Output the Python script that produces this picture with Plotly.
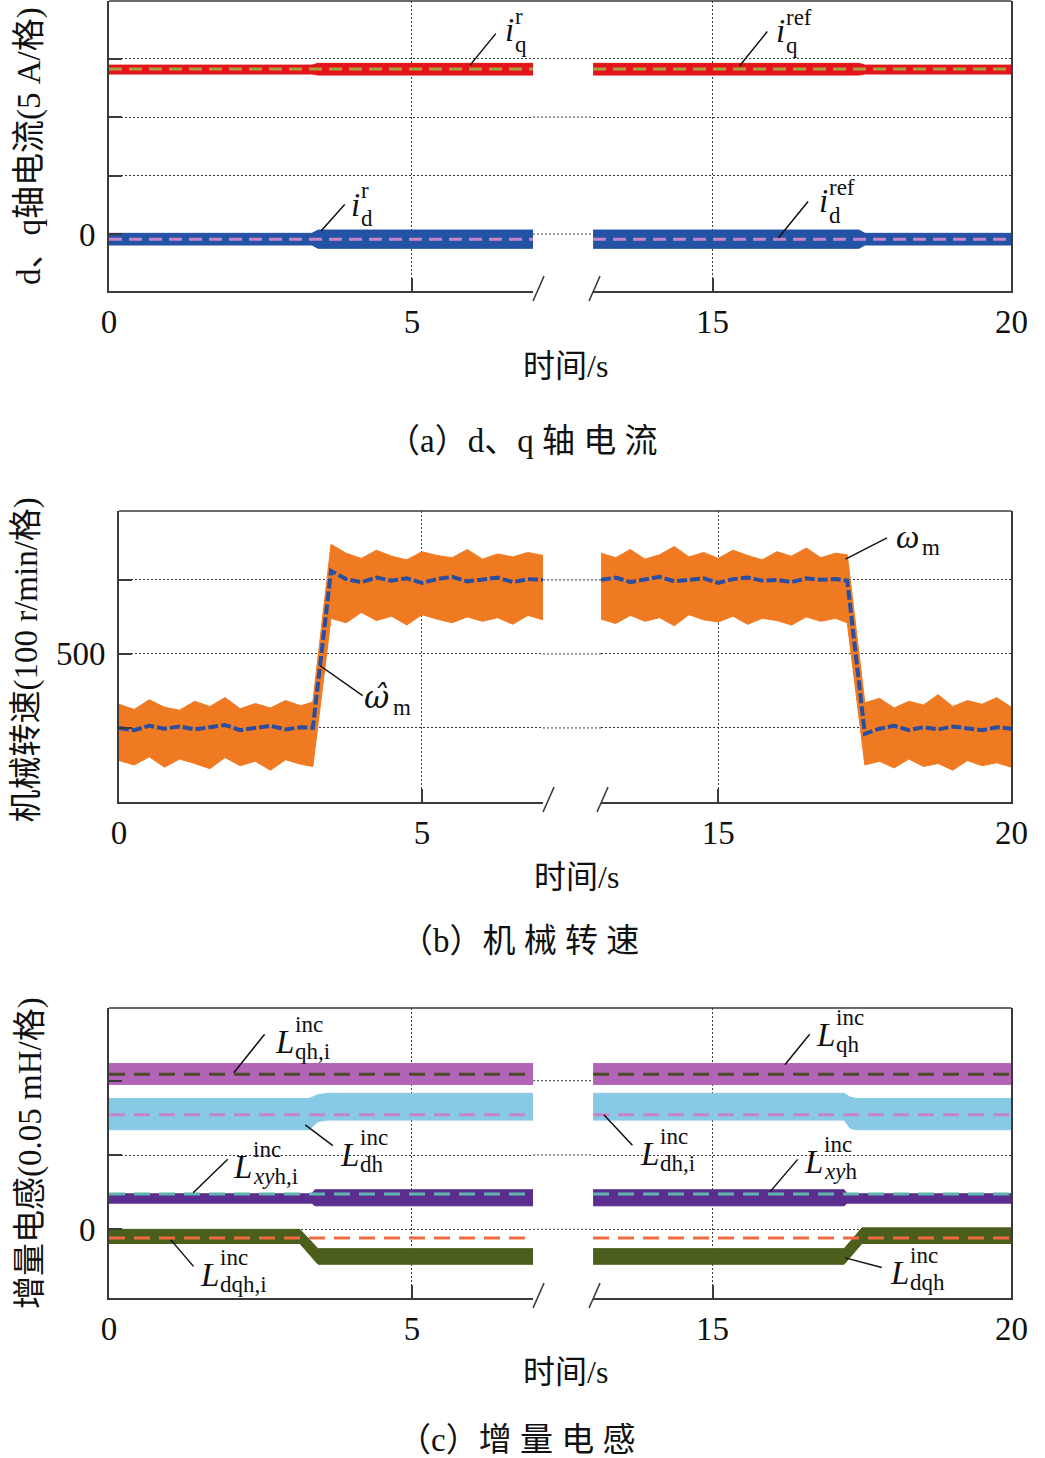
import plotly.graph_objects as go

# ================= DATA =================
# broken time axis: segment 1 = 0..7 s, segment 2 = 13..20 s
x_ticks_s1 = [0, 5]
x_ticktext_s1 = ["0", "5"]
x_ticks_s2 = [15, 20]
x_ticktext_s2 = ["15", "20"]

# (a) d/q-axis currents [A]  (5 A per division)
a_yticks = [0, 5, 10, 15]
a_yticktext = ["0", "", "", ""]
t_a_s1 = [0, 3.35, 3.45, 7]
t_a_s2 = [13, 17.45, 17.55, 20]
iq_r_upper_s1 = [14.44, 14.44, 14.59, 14.59]
iq_r_lower_s1 = [13.68, 13.68, 13.59, 13.59]
iq_r_upper_s2 = [14.59, 14.59, 14.44, 14.44]
iq_r_lower_s2 = [13.59, 13.59, 13.68, 13.68]
id_r_upper_s1 = [0.06, 0.06, 0.34, 0.34]
id_r_lower_s1 = [-0.94, -0.94, -1.22, -1.22]
id_r_upper_s2 = [0.34, 0.34, 0.06, 0.06]
id_r_lower_s2 = [-1.22, -1.22, -0.94, -0.94]
t_ref_s1 = [0, 7]
t_ref_s2 = [13, 20]
iq_ref = [14.1, 14.1]
id_ref = [-0.45, -0.45]

# (b) mechanical speed [r/min]  (100 r/min per division)
b_yticks = [400, 500, 600]
b_yticktext = ["", "500", ""]
t_b_s1 = [0, 0.25, 0.5, 0.75, 1.0, 1.25, 1.5, 1.75, 2.0, 2.25, 2.5, 2.75, 3.0, 3.2,
          3.5, 3.75, 4.0, 4.25, 4.5, 4.75, 5.0, 5.25, 5.5, 5.75, 6.0, 6.25, 6.5, 6.75, 7.0]
wm_upper_s1 = [432, 425, 438, 428, 424, 436, 429, 441, 426, 433, 427, 437, 430, 435,
               648, 636, 629, 640, 632, 627, 638, 633, 630, 641, 628, 635, 631, 637, 633]
wm_lower_s1 = [356, 350, 361, 347, 358, 352, 345, 360, 349, 355, 343, 357, 351, 348,
               548, 542, 556, 545, 551, 539, 553, 547, 542, 550, 544, 549, 540, 552, 546]
wm_hat_s1 = [400, 397, 403, 399, 402, 398, 401, 404, 397, 400, 403, 398, 401, 400,
             612, 601, 597, 603, 599, 602, 596, 601, 604, 598, 600, 603, 597, 601, 600]
t_b_s2 = [13.0, 13.25, 13.5, 13.75, 14.0, 14.25, 14.5, 14.75, 15.0, 15.25, 15.5, 15.75,
          16.0, 16.25, 16.5, 16.75, 17.0, 17.2,
          17.5, 17.75, 18.0, 18.25, 18.5, 18.75, 19.0, 19.25, 19.5, 19.75, 20.0]
wm_upper_s2 = [636, 630, 641, 628, 634, 645, 631, 637, 629, 640, 633, 627, 638, 632, 643, 630, 636, 634,
               434, 440, 427, 436, 431, 445, 429, 437, 432, 441, 428]
wm_lower_s2 = [547, 541, 552, 544, 549, 538, 553, 546, 543, 551, 540, 548, 545, 539, 550, 544, 548, 542,
               350, 355, 346, 358, 348, 352, 343, 356, 349, 353, 347]
wm_hat_s2 = [600, 603, 597, 601, 604, 598, 600, 602, 596, 601, 603, 599, 600, 597, 602, 600, 601, 599,
             392, 399, 403, 397, 401, 398, 402, 400, 397, 401, 399]

# (c) incremental inductances [mH]  (0.05 mH per division)
c_yticks = [0, 0.05, 0.10]
c_yticktext = ["0", "", ""]
t_qh_s1 = [0, 7]
t_qh_s2 = [13, 20]
Lqh_upper = [0.1115, 0.1115]
Lqh_lower = [0.0975, 0.0975]
t_dh_s1 = [0, 3.3, 3.45, 3.6, 7]
Ldh_upper_s1 = [0.088, 0.088, 0.0905, 0.0915, 0.0915]
Ldh_lower_s1 = [0.067, 0.067, 0.0725, 0.0735, 0.0735]
t_dh_s2 = [13, 17.2, 17.3, 17.4, 20]
Ldh_upper_s2 = [0.0915, 0.0915, 0.089, 0.088, 0.088]
Ldh_lower_s2 = [0.0735, 0.0735, 0.068, 0.067, 0.067]
t_xyh_s1 = [0, 3.35, 3.4, 7]
Lxyh_upper_s1 = [0.0239, 0.0239, 0.0266, 0.0266]
Lxyh_lower_s1 = [0.0176, 0.0176, 0.0158, 0.0158]
t_xyh_s2 = [13, 17.2, 17.25, 20]
Lxyh_upper_s2 = [0.0266, 0.0266, 0.0239, 0.0239]
Lxyh_lower_s2 = [0.0158, 0.0158, 0.0176, 0.0176]
t_dqh_s1 = [0, 3.15, 3.45, 7]
Ldqh_upper_s1 = [0.0, 0.0, -0.013, -0.013]
Ldqh_lower_s1 = [-0.0095, -0.0095, -0.0235, -0.0235]
t_dqh_s2 = [13, 17.2, 17.5, 20]
Ldqh_upper_s2 = [-0.013, -0.013, 0.001, 0.001]
Ldqh_lower_s2 = [-0.0235, -0.0235, -0.0095, -0.0095]
Lqh_i = [0.1043, 0.1043]
Ldh_i = [0.0771, 0.0771]
Lxyh_i = [0.0237, 0.0237]
Ldqh_i = [-0.0059, -0.0059]

# ================= STYLE / LAYOUT =================
W, H = 1045, 1458
# the page is shown slightly shrunk horizontally; place things accordingly
PX0, PXS = 8.0, 0.976
PMAX = 1028.0  # keep right-hand tick labels inside the graph div
SERIF = "Liberation Serif"
CJK = "Liberation Serif, Noto Sans CJK SC"
FRAME = "#3a3a3a"
GRID = "#3a3a3a"
TXT = "#111111"


def qx(px, cap=PMAX):
    return min((px - PX0) / PXS, cap) / W


def qy(py):
    return 1 - py / H


panels = [
    dict(x0=109, x1=1018, gapL=533, gapR=593, y0=1, y1=291, yrange=[-4.87, 19.92],
         yticks=a_yticks, ytext=a_yticktext),
    dict(x0=119, x1=1029, gapL=543, gapR=601, y0=511, y1=802, yrange=[300, 693],
         yticks=b_yticks, ytext=b_yticktext),
    dict(x0=109, x1=1018, gapL=533, gapR=593, y0=1008, y1=1298, yrange=[-0.0462, 0.1489],
         yticks=c_yticks, ytext=c_yticktext),
]


def an(n):
    return "" if n == 1 else str(n)


fig = go.Figure()


def band(t, up, lo, color, xa, ya, name):
    fig.add_trace(go.Scatter(x=list(t) + list(t)[::-1], y=list(up) + list(lo)[::-1],
                             fill="toself", fillcolor=color, mode="lines",
                             line=dict(color=color, width=1), xaxis=xa, yaxis=ya,
                             name=name, hoverinfo="skip", showlegend=False))


def dline(t, y, color, xa, ya, name, width=3, dash="13px,7px"):
    fig.add_trace(go.Scatter(x=t, y=y, mode="lines", line=dict(color=color, width=width, dash=dash),
                             xaxis=xa, yaxis=ya, name=name, showlegend=False))


# ---- panel (a)
band(t_a_s1, iq_r_upper_s1, iq_r_lower_s1, "#e3151b", "x", "y", "iq_r")
band(t_a_s2, iq_r_upper_s2, iq_r_lower_s2, "#e3151b", "x2", "y2", "iq_r")
band(t_a_s1, id_r_upper_s1, id_r_lower_s1, "#2452a4", "x", "y", "id_r")
band(t_a_s2, id_r_upper_s2, id_r_lower_s2, "#2452a4", "x2", "y2", "id_r")
dline(t_ref_s1, iq_ref, "#a3a23c", "x", "y", "iq_ref")
dline(t_ref_s2, iq_ref, "#a3a23c", "x2", "y2", "iq_ref")
dline(t_ref_s1, id_ref, "#c585c8", "x", "y", "id_ref")
dline(t_ref_s2, id_ref, "#c585c8", "x2", "y2", "id_ref")

# ---- panel (b)
band(t_b_s1, wm_upper_s1, wm_lower_s1, "#f07a22", "x3", "y3", "wm")
band(t_b_s2, wm_upper_s2, wm_lower_s2, "#f07a22", "x4", "y4", "wm")
dline(t_b_s1, wm_hat_s1, "#2a4ea0", "x3", "y3", "wm_hat", width=4, dash="10px,3px")
dline(t_b_s2, wm_hat_s2, "#2a4ea0", "x4", "y4", "wm_hat", width=4, dash="10px,3px")

# ---- panel (c)
for xa, ya, tq, tdh, udh, ldh, tx, ux, lx, tdq, udq, ldq, tr in [
    ("x5", "y5", t_qh_s1, t_dh_s1, Ldh_upper_s1, Ldh_lower_s1, t_xyh_s1, Lxyh_upper_s1, Lxyh_lower_s1,
     t_dqh_s1, Ldqh_upper_s1, Ldqh_lower_s1, t_ref_s1),
    ("x6", "y6", t_qh_s2, t_dh_s2, Ldh_upper_s2, Ldh_lower_s2, t_xyh_s2, Lxyh_upper_s2, Lxyh_lower_s2,
     t_dqh_s2, Ldqh_upper_s2, Ldqh_lower_s2, t_ref_s2)]:
    band(tq, Lqh_upper, Lqh_lower, "#b264b6", xa, ya, "Lqh")
    band(tdh, udh, ldh, "#88cae6", xa, ya, "Ldh")
    band(tx, ux, lx, "#5a2d8e", xa, ya, "Lxyh")
    band(tdq, udq, ldq, "#4c5e1c", xa, ya, "Ldqh")
    dline(tr, Lqh_i, "#4d4a2c", xa, ya, "Lqh_i", dash="16px,9px")
    dline(tr, Ldh_i, "#c586c8", xa, ya, "Ldh_i", dash="16px,9px")
    dline(tr, Lxyh_i, "#5fb5ae", xa, ya, "Lxyh_i", dash="16px,9px")
    dline(tr, Ldqh_i, "#ef6b3f", xa, ya, "Ldqh_i", dash="16px,9px")

layout = dict(width=W, height=H, margin=dict(l=0, r=0, t=0, b=0),
              paper_bgcolor="white", plot_bgcolor="white", showlegend=False)
shapes = []
annotations = []

tickfont = dict(family=SERIF, size=33, color=TXT)
for k, P in enumerate(panels):
    n1, n2 = 2 * k + 1, 2 * k + 2
    ydom = [qy(P["y1"]), qy(P["y0"])]
    cx = dict(ticks="inside", ticklen=13, tickwidth=1.5, tickcolor=FRAME, showline=True,
              linecolor=FRAME, linewidth=1.6, mirror=False, showgrid=True, gridcolor=GRID,
              gridwidth=1, griddash="2px,2px", zeroline=False, tickfont=tickfont,
              ticklabelstandoff=1, fixedrange=True)
    layout["xaxis" + an(n1)] = dict(domain=[qx(P["x0"]), qx(P["gapL"])], range=[0, 7],
                                    anchor="y" + an(n1), tickvals=x_ticks_s1,
                                    ticktext=x_ticktext_s1, **cx)
    layout["xaxis" + an(n2)] = dict(domain=[qx(P["gapR"]), qx(P["x1"])], range=[13, 20],
                                    anchor="y" + an(n2), tickvals=x_ticks_s2,
                                    ticktext=x_ticktext_s2, **cx)
    cy = dict(showline=True, linecolor=FRAME, linewidth=1.6, showgrid=True, gridcolor=GRID,
              gridwidth=1, griddash="2px,2px", zeroline=False, fixedrange=True)
    layout["yaxis" + an(n1)] = dict(domain=ydom, range=P["yrange"], anchor="x" + an(n1),
                                    tickvals=P["yticks"], ticktext=P["ytext"], ticks="inside",
                                    ticklen=13, tickwidth=1.5, tickcolor=FRAME, tickfont=tickfont,
                                    ticklabelstandoff=5, side="left", **cy)
    layout["yaxis" + an(n2)] = dict(domain=ydom, range=P["yrange"], anchor="x" + an(n2),
                                    tickvals=P["yticks"], ticks="", showticklabels=False,
                                    side="right", **cy)
    shapes.append(dict(type="line", xref="paper", yref="paper", x0=qx(P["x0"]),
                       x1=qx(P["x1"]), y0=ydom[1], y1=ydom[1],
                       line=dict(color=FRAME, width=1.6)))
    for v in P["yticks"]:
        shapes.append(dict(type="line", xref="paper", yref="y" + an(n1), x0=qx(P["gapL"]),
                           x1=qx(P["gapR"]), y0=v, y1=v, layer="below",
                           line=dict(color=GRID, width=1, dash="2px,2px")))
    yb = P["y1"]
    for xs in (P["gapL"], P["gapR"] - 4):
        shapes.append(dict(type="line", xref="paper", yref="paper", x0=qx(xs), x1=qx(xs + 11),
                           y0=qy(yb + 10), y1=qy(yb - 15),
                           line=dict(color=FRAME, width=1.6)))


def leader(xref, yref, x, y, ax, ay):
    annotations.append(dict(xref=xref, yref=yref, x=x, y=y, ax=ax, ay=ay, axref="pixel",
                            ayref="pixel", text="", showarrow=True, arrowhead=0,
                            arrowwidth=1.5, arrowcolor=TXT, standoff=0, startstandoff=0))


def label(xref, yref, x, y, dx, dy, base, sup, sub, bsize=33, ssize=23, sup_dy=-14, sub_dy=14,
          gap=-3, bfamily=SERIF):
    annotations.append(dict(xref=xref, yref=yref, x=x, y=y, xshift=dx, yshift=-dy, text=base,
                            showarrow=False, xanchor="right", yanchor="middle",
                            font=dict(family=bfamily, size=bsize, color=TXT)))
    if sup:
        annotations.append(dict(xref=xref, yref=yref, x=x, y=y, xshift=dx + gap,
                                yshift=-(dy + sup_dy), text=sup, showarrow=False,
                                xanchor="left", yanchor="middle",
                                font=dict(family=SERIF, size=ssize, color=TXT)))
    if sub:
        annotations.append(dict(xref=xref, yref=yref, x=x, y=y, xshift=dx + gap,
                                yshift=-(dy + sub_dy), text=sub, showarrow=False,
                                xanchor="left", yanchor="middle",
                                font=dict(family=SERIF, size=ssize, color=TXT)))


# (a) labels
leader("x", "y", 5.96, 14.44, 27, -33)
label("x", "y", 5.96, 14.44, 46, -35, "<i>i</i>", "r", "q")
leader("x2", "y2", 15.45, 14.36, 29, -36)
label("x2", "y2", 15.45, 14.36, 48, -35, "<i>i</i>", "ref", "q")
leader("x", "y", 3.5, 0.26, 25, -28)
label("x", "y", 3.5, 0.26, 41, -26, "<i>i</i>", "r", "d")
leader("x2", "y2", 16.1, -0.34, 31, -38)
label("x2", "y2", 16.1, -0.34, 52, -37, "<i>i</i>", "ref", "d")

# (b) labels
leader("x3", "y3", 3.32, 484, 44, 31)
label("x3", "y3", 3.32, 484, 71, 31, "<i>ω̂</i>", None, "m", bsize=31, sub_dy=11, gap=0,
      bfamily="DejaVu Serif")
leader("x4", "y4", 17.17, 628, 43, -22)
label("x4", "y4", 17.17, 628, 75, -22, "<i>ω</i>", None, "m", sub_dy=10, gap=-1)

# (c) labels
LS = dict(sup_dy=-17, sub_dy=10, gap=-3)
leader("x5", "y5", 2.06, 0.1053, 32, -40)
label("x5", "y5", 2.06, 0.1053, 62, -31, "<i>L</i>", "inc", "qh,i", **LS)
leader("x5", "y5", 3.24, 0.0703, 29, 22)
label("x5", "y5", 3.24, 0.0703, 56, 30, "<i>L</i>", "inc", "dh", **LS)
leader("x5", "y5", 1.39, 0.0246, 36, -35)
label("x5", "y5", 1.39, 0.0246, 61, -26, "<i>L</i>", "inc", "<i>xy</i>h,i", **LS)
leader("x5", "y5", 1.02, -0.0071, 24, 28)
label("x5", "y5", 1.02, -0.0071, 50, 35, "<i>L</i>", "inc", "dqh,i", **LS)
leader("x6", "y6", 16.21, 0.1107, 26, -32)
label("x6", "y6", 16.21, 0.1107, 52, -30, "<i>L</i>", "inc", "qh", **LS)
leader("x6", "y6", 13.18, 0.0771, 30, 32)
label("x6", "y6", 13.18, 0.0771, 57, 39, "<i>L</i>", "inc", "dh,i", **LS)
leader("x6", "y6", 15.96, 0.0252, 29, -34)
label("x6", "y6", 15.96, 0.0252, 55, -30, "<i>L</i>", "inc", "<i>xy</i>h", **LS)
leader("x6", "y6", 17.22, -0.0192, 38, 10)
label("x6", "y6", 17.22, -0.0192, 66, 15, "<i>L</i>", "inc", "dqh", **LS)


def ptext(px, py, text, size=32, angle=0, pmin=0.0):
    x = max(qx(px), pmin / W)
    annotations.append(dict(xref="paper", yref="paper", x=x, y=qy(py), text=text,
                            showarrow=False, xanchor="center", yanchor="middle", textangle=angle,
                            font=dict(family=CJK, size=size, color=TXT)))


ptext(565, 366, "时间/s")
ptext(576, 877, "时间/s")
ptext(565, 1372, "时间/s")
ptext(30, 146, "d、q轴电流(5 A/格)", size=33, angle=-90, pmin=20)
ptext(18, 660, "机械转速(100 r/min/格)", size=33, angle=-90, pmin=19)
ptext(30, 1153, "增量电感(0.05 mH/格)", size=33, angle=-90, pmin=20)
ptext(522, 441, "（a）d、q 轴 电 流", size=33)
ptext(519, 941, "（b）机 械 转 速", size=33)
ptext(516, 1440, "（c）增 量 电 感", size=33)

layout["shapes"] = shapes
layout["annotations"] = annotations
fig.update_layout(**layout)
fig.write_html("out.html")
